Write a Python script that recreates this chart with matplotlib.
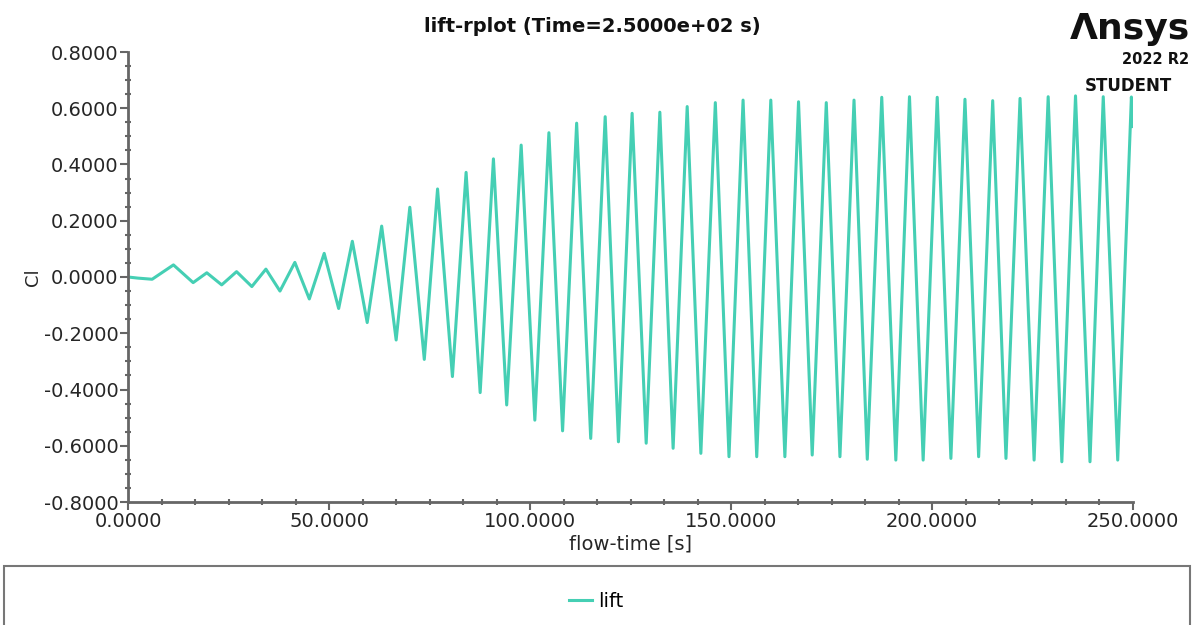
import matplotlib
matplotlib.use("Agg")
import matplotlib.pyplot as plt
from matplotlib.ticker import MultipleLocator, FormatStrFormatter
from matplotlib.patches import Rectangle

# flow-time [s] and lift coefficient at the turning points
flow_time = [
    0.0, 2.5, 6.0, 11.3, 16.2, 19.6, 23.3, 27.0, 30.8, 34.3,
    37.8, 41.5, 45.1, 48.8, 52.4, 55.8, 59.5, 63.1, 66.7, 70.1,
    73.7, 77.0, 80.7, 84.1, 87.6, 90.9, 94.2, 97.8, 101.2, 104.7,
    108.1, 111.6, 115.1, 118.7, 122.0, 125.4, 128.9, 132.3, 135.6, 139.1,
    142.5, 146.1, 149.5, 153.0, 156.4, 159.9, 163.4, 166.8, 170.2, 173.7,
    177.1, 180.6, 183.9, 187.5, 191.0, 194.4, 197.8, 201.3, 204.7, 208.2,
    211.6, 215.1, 218.4, 221.9, 225.4, 228.9, 232.3, 235.7, 239.3, 242.6,
    246.2, 249.6, 250.0,
]
cl = [
    0.000, -0.004, -0.008, 0.043, -0.020, 0.015, -0.028, 0.019, -0.034, 0.028,
    -0.050, 0.052, -0.078, 0.084, -0.112, 0.127, -0.162, 0.181, -0.224, 0.248,
    -0.293, 0.313, -0.354, 0.372, -0.411, 0.420, -0.455, 0.469, -0.509, 0.513,
    -0.547, 0.547, -0.574, 0.570, -0.586, 0.582, -0.591, 0.586, -0.609, 0.606,
    -0.627, 0.620, -0.639, 0.629, -0.639, 0.629, -0.639, 0.623, -0.633, 0.620,
    -0.639, 0.629, -0.648, 0.639, -0.651, 0.641, -0.651, 0.639, -0.645, 0.632,
    -0.639, 0.627, -0.645, 0.635, -0.651, 0.641, -0.657, 0.644, -0.657, 0.641,
    -0.651, 0.640, 0.535,
]

line_color = "#45cfb4"
axis_color = "#666666"
text_color = "#262626"

fig = plt.figure(figsize=(11.92, 6.25), dpi=100)
ax = fig.add_axes([0.1074, 0.1968, 0.8431, 0.72])

ax.plot(flow_time, cl, color=line_color, lw=2.2, solid_joinstyle="round")

ax.set_xlim(0, 250)
ax.set_ylim(-0.8, 0.8)
ax.xaxis.set_major_locator(MultipleLocator(50))
ax.xaxis.set_minor_locator(MultipleLocator(50 / 6))
ax.yaxis.set_major_locator(MultipleLocator(0.2))
ax.yaxis.set_minor_locator(MultipleLocator(0.05))
ax.xaxis.set_major_formatter(FormatStrFormatter("%.4f"))
ax.yaxis.set_major_formatter(FormatStrFormatter("%.4f"))

for side in ["top", "right"]:
    ax.spines[side].set_visible(False)
for side in ["left", "bottom"]:
    ax.spines[side].set_color(axis_color)
    ax.spines[side].set_linewidth(2)

ax.tick_params(which="major", direction="out", length=6, width=1.5,
               color=axis_color, labelsize=14, labelcolor=text_color, pad=1)
ax.tick_params(which="minor", direction="inout", length=4, width=1.5,
               color=axis_color)

ax.set_xlabel("flow-time [s]", fontsize=14, color=text_color, labelpad=3)
ax.set_ylabel("Cl", fontsize=13, color=text_color, labelpad=1)

fig.text(0.497, 0.957, "lift-rplot (Time=2.5000e+02 s)", ha="center",
         va="center", fontsize=14, fontweight="bold", color="#111111")

# logo text top right
fig.text(0.998, 0.937, "Λnsys", ha="right", va="baseline", fontsize=26,
         fontweight="bold", color="#111111")
fig.text(0.998, 0.898, "2022 R2", ha="right", va="baseline", fontsize=10.5,
         fontweight="bold", color="#111111")
fig.text(0.983, 0.855, "STUDENT", ha="right", va="baseline", fontsize=12,
         fontweight="bold", color="#111111")

# legend box along the bottom
fig.patches.append(Rectangle((0.003, -0.05), 0.995, 0.145, transform=fig.transFigure,
                             fill=False, edgecolor="#777777", lw=1.5))
fig.legend(handles=ax.get_lines(), labels=["lift"], loc="center",
           bbox_to_anchor=(0.5, 0.038), frameon=False, fontsize=14,
           handlelength=1.2, handletextpad=0.3)

fig.savefig("out.png", dpi=100)
